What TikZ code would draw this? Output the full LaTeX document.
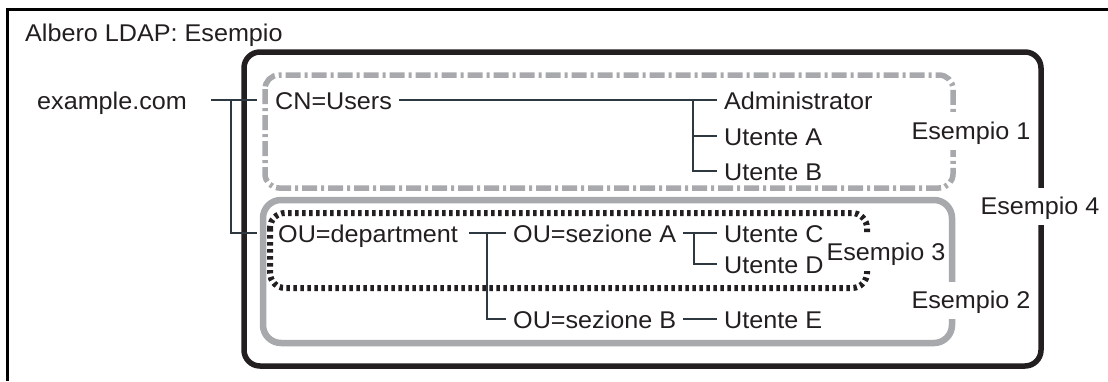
\documentclass[tikz,border=0pt]{standalone}
\usepackage{fontspec}
\setmainfont{Liberation Sans}[FakeStretch=1.04]
\definecolor{ink}{HTML}{231F20}
\definecolor{boxgrey}{HTML}{A7A9AC}
\definecolor{wirecol}{HTML}{2E3840}
\begin{document}
\begin{tikzpicture}[x=1pt,y=-1pt,
  txt/.style={font=\fontsize{24.2}{28}\selectfont, text=ink},
  leaf/.style={txt, anchor=west, inner xsep=7pt, inner ysep=0pt, text height=18.5pt, text depth=0pt},
  tag/.style={txt, anchor=base, fill=white, inner xsep=2pt, inner ysep=6pt, text height=20pt, text depth=5pt},
  wire/.style={draw=wirecol, line width=1.4pt},
  frameline/.style={draw=black, line width=3pt},
  boxfour/.style={draw=ink, line width=5.5pt, rounded corners=16pt},
  boxone/.style={draw=boxgrey, line width=5.5pt, rounded corners=14pt, dash pattern=on 15pt off 4pt on 3pt off 4pt},
  boxtwo/.style={draw=boxgrey, line width=6.5pt, rounded corners=18pt},
  boxthree/.style={draw=ink, line width=6pt, rounded corners=15pt, dash pattern=on 3.5pt off 3.5pt}]
\useasboundingbox (0,0) rectangle (1108,381);
\fill[white] (0,0) rectangle (1108,381);

% outer frame
\draw[frameline] (7.5,381) -- (7.5,9.5) -- (1108,9.5);

% example boxes
\draw[boxfour] (244,52) rectangle (1041,366);
\draw[boxone] (265,75) rectangle (953,188);
\draw[boxtwo] (263,200) rectangle (952,343);
\draw[boxthree] (270,213) rectangle (867,288);

% box labels
\node[tag] (e1) at (971,139) {Esempio 1};
\node[tag] (e2) at (971,308) {Esempio 2};
\node[tag] (e3) at (886,260) {Esempio 3};
\node[tag] (e4) at (1040,214) {Esempio 4};

% title
\node[txt, anchor=base west, inner sep=0pt] (title) at (25,41) {Albero LDAP: Esempio};

% tree nodes
\node[leaf] (ex) at (30,100) {example.com};
\node[leaf] (cn) at (268,100) {CN=Users};
\node[leaf] (adm) at (717,100) {Administrator};
\node[leaf] (ua) at (717,136) {Utente A};
\node[leaf] (ub) at (717,171) {Utente B};
\node[leaf] (dep) at (271,233) {OU=department};
\node[leaf] (sa) at (506,233) {OU=sezione A};
\node[leaf] (sb) at (506,319) {OU=sezione B};
\node[leaf] (uc) at (717,233) {Utente C};
\node[leaf] (ud) at (717,264) {Utente D};
\node[leaf] (ue) at (717,319) {Utente E};

\coordinate (j1) at (231,100);
\coordinate (j2) at (693,100);
\coordinate (j3) at (487,233);
\coordinate (j4) at (694,233);

% connectors
\draw[wire, shorten <=17pt, shorten >=11pt] (ex.east) -- (cn.west);
\draw[wire, shorten >=14pt] (j1) |- (dep.west);
\draw[wire] (cn.east) -- (adm.west);
\draw[wire] (j2) |- (ua.west);
\draw[wire] (j2) |- (ub.west);
\draw[wire, shorten <=4pt] (dep.east) -- (sa.west);
\draw[wire] (j3) |- (sb.west);
\draw[wire] (sa.east) -- (uc.west);
\draw[wire] (j4) |- (ud.west);
\draw[wire] (sb.east) -- (ue.west);
\end{tikzpicture}
\end{document}
